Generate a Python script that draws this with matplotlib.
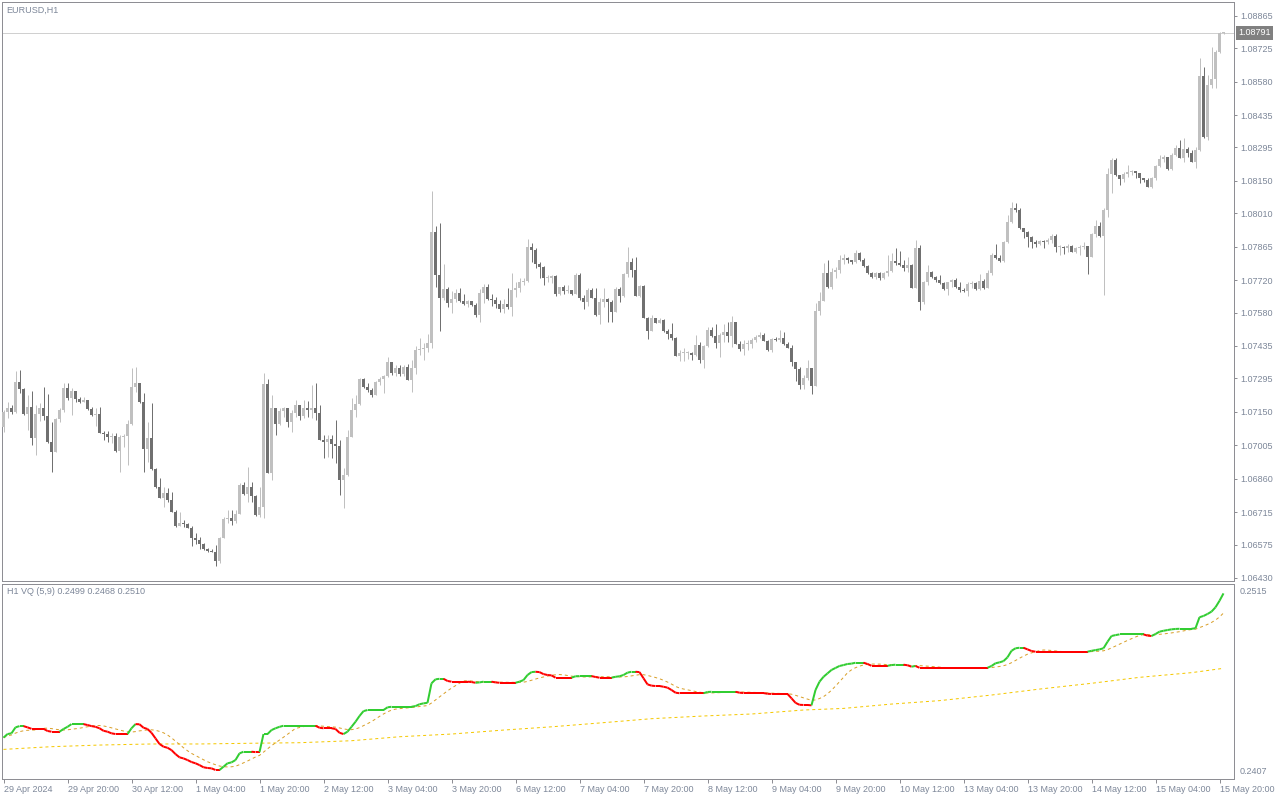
import numpy as np
import pandas as pd
import matplotlib
matplotlib.use("Agg")
import matplotlib.pyplot as plt
from matplotlib.collections import LineCollection

plt.rcParams['font.family'] = ['Liberation Sans', 'DejaVu Sans']

# ---------------- data ----------------
symbol_title = "EURUSD,H1"
indicator_title = "H1 VQ (5,9) 0.2499 0.2468 0.2510"
first_open = 1.07084
current_price = 1.08791

close = [
    1.07149, 1.07166, 1.07149, 1.07279, 1.07248, 1.07140, 1.07170, 1.07036, 1.07140, 1.07166,
    1.07131, 1.07019, 1.06975, 1.07118, 1.07157, 1.07253, 1.07209, 1.07240, 1.07205, 1.07192,
    1.07201, 1.07162, 1.07136, 1.07140, 1.07058, 1.07053, 1.07040, 1.07045, 1.06980, 1.07040,
    1.07045, 1.07097, 1.07257, 1.07274, 1.07192, 1.06988, 1.07036, 1.06902, 1.06824, 1.06776,
    1.06798, 1.06767, 1.06715, 1.06655, 1.06668, 1.06663, 1.06646, 1.06603, 1.06594, 1.06577,
    1.06555, 1.06546, 1.06542, 1.06503, 1.06603, 1.06685, 1.06689, 1.06676, 1.06707, 1.06832,
    1.06793, 1.06824, 1.06785, 1.06702, 1.06737, 1.07270, 1.06884, 1.07166, 1.07097, 1.07153,
    1.07166, 1.07105, 1.07144, 1.07179, 1.07131, 1.07166, 1.07157, 1.07166, 1.07144, 1.07027,
    1.07019, 1.07032, 1.07010, 1.07001, 1.06854, 1.06876, 1.07040, 1.07157, 1.07183, 1.07292,
    1.07257, 1.07244, 1.07222, 1.07279, 1.07292, 1.07305, 1.07365, 1.07318, 1.07339, 1.07313,
    1.07344, 1.07287, 1.07339, 1.07417, 1.07422, 1.07426, 1.07448, 1.07929, 1.07742, 1.07643,
    1.07682, 1.07621, 1.07638, 1.07664, 1.07630, 1.07617, 1.07630, 1.07612, 1.07569, 1.07664,
    1.07690, 1.07638, 1.07634, 1.07617, 1.07595, 1.07617, 1.07604, 1.07677, 1.07686, 1.07712,
    1.07716, 1.07864, 1.07851, 1.07790, 1.07777, 1.07729, 1.07729, 1.07738, 1.07660, 1.07690,
    1.07673, 1.07677, 1.07660, 1.07742, 1.07643, 1.07625, 1.07677, 1.07643, 1.07569, 1.07625,
    1.07638, 1.07625, 1.07582, 1.07682, 1.07651, 1.07747, 1.07799, 1.07764, 1.07651, 1.07695,
    1.07556, 1.07500, 1.07556, 1.07534, 1.07547, 1.07500, 1.07487, 1.07469, 1.07391, 1.07404,
    1.07404, 1.07404, 1.07396, 1.07439, 1.07374, 1.07435, 1.07504, 1.07478, 1.07448, 1.07482,
    1.07495, 1.07478, 1.07539, 1.07443, 1.07422, 1.07443, 1.07443, 1.07461, 1.07474, 1.07482,
    1.07456, 1.07417, 1.07465, 1.07461, 1.07469, 1.07443, 1.07426, 1.07365, 1.07335, 1.07266,
    1.07296, 1.07339, 1.07261, 1.07586, 1.07630, 1.07751, 1.07690, 1.07755, 1.07764, 1.07807,
    1.07816, 1.07807, 1.07799, 1.07838, 1.07807, 1.07781, 1.07751, 1.07734, 1.07751, 1.07729,
    1.07751, 1.07760, 1.07803, 1.07794, 1.07786, 1.07773, 1.07786, 1.07686, 1.07859, 1.07625,
    1.07712, 1.07755, 1.07734, 1.07721, 1.07708, 1.07682, 1.07712, 1.07721, 1.07690, 1.07677,
    1.07673, 1.07703, 1.07708, 1.07682, 1.07716, 1.07686, 1.07751, 1.07829, 1.07816, 1.07803,
    1.07885, 1.07972, 1.08033, 1.08024, 1.07946, 1.07929, 1.07907, 1.07885, 1.07877, 1.07890,
    1.07885, 1.07894, 1.07911, 1.07864, 1.07864, 1.07859, 1.07868, 1.07842, 1.07859, 1.07864,
    1.07868, 1.07820, 1.07920, 1.07955, 1.07911, 1.08024, 1.08180, 1.08241, 1.08176, 1.08158,
    1.08180, 1.08189, 1.08193, 1.08184, 1.08163, 1.08154, 1.08124, 1.08163, 1.08215, 1.08245,
    1.08254, 1.08202, 1.08262, 1.08293, 1.08249, 1.08288, 1.08271, 1.08232, 1.08284, 1.08605,
    1.08340, 1.08566, 1.08592, 1.08709, 1.08791, 1.08791,
]

high = [
    1.07157, 1.07192, 1.07179, 1.07326, 1.07331, 1.07253, 1.07222, 1.07240, 1.07179, 1.07188,
    1.07257, 1.07227, 1.07105, 1.07123, 1.07166, 1.07274, 1.07274, 1.07253, 1.07240, 1.07214,
    1.07214, 1.07196, 1.07170, 1.07166, 1.07170, 1.07066, 1.07066, 1.07058, 1.07058, 1.07049,
    1.07053, 1.07114, 1.07339, 1.07344, 1.07274, 1.07231, 1.07105, 1.07188, 1.06906, 1.06863,
    1.06824, 1.06819, 1.06802, 1.06724, 1.06715, 1.06681, 1.06668, 1.06655, 1.06624, 1.06607,
    1.06581, 1.06559, 1.06555, 1.06572, 1.06607, 1.06694, 1.06724, 1.06724, 1.06724, 1.06841,
    1.06845, 1.06910, 1.06845, 1.06789, 1.06824, 1.07318, 1.07292, 1.07222, 1.07149, 1.07166,
    1.07170, 1.07166, 1.07157, 1.07201, 1.07179, 1.07201, 1.07196, 1.07266, 1.07274, 1.07179,
    1.07049, 1.07049, 1.07049, 1.07114, 1.07027, 1.06906, 1.07071, 1.07209, 1.07222, 1.07296,
    1.07296, 1.07274, 1.07253, 1.07283, 1.07300, 1.07309, 1.07387, 1.07365, 1.07352, 1.07352,
    1.07352, 1.07357, 1.07374, 1.07435, 1.07469, 1.07448, 1.07487, 1.08106, 1.07955, 1.07968,
    1.07790, 1.07690, 1.07673, 1.07682, 1.07686, 1.07660, 1.07634, 1.07630, 1.07621, 1.07682,
    1.07703, 1.07703, 1.07660, 1.07647, 1.07634, 1.07638, 1.07686, 1.07751, 1.07712, 1.07729,
    1.07729, 1.07898, 1.07881, 1.07859, 1.07799, 1.07781, 1.07742, 1.07742, 1.07742, 1.07690,
    1.07699, 1.07699, 1.07677, 1.07751, 1.07751, 1.07656, 1.07686, 1.07686, 1.07686, 1.07643,
    1.07686, 1.07643, 1.07634, 1.07690, 1.07690, 1.07751, 1.07864, 1.07816, 1.07820, 1.07699,
    1.07699, 1.07560, 1.07569, 1.07556, 1.07556, 1.07552, 1.07508, 1.07534, 1.07474, 1.07417,
    1.07426, 1.07413, 1.07409, 1.07482, 1.07452, 1.07439, 1.07517, 1.07517, 1.07530, 1.07491,
    1.07530, 1.07539, 1.07565, 1.07539, 1.07456, 1.07461, 1.07461, 1.07469, 1.07482, 1.07495,
    1.07491, 1.07461, 1.07469, 1.07474, 1.07504, 1.07495, 1.07452, 1.07439, 1.07365, 1.07344,
    1.07309, 1.07374, 1.07339, 1.07621, 1.07669, 1.07794, 1.07807, 1.07773, 1.07777, 1.07829,
    1.07833, 1.07820, 1.07807, 1.07851, 1.07842, 1.07816, 1.07786, 1.07755, 1.07755, 1.07755,
    1.07755, 1.07829, 1.07838, 1.07859, 1.07846, 1.07807, 1.07820, 1.07790, 1.07894, 1.07872,
    1.07716, 1.07786, 1.07760, 1.07738, 1.07742, 1.07712, 1.07712, 1.07725, 1.07729, 1.07712,
    1.07686, 1.07712, 1.07716, 1.07712, 1.07747, 1.07725, 1.07764, 1.07838, 1.07877, 1.07829,
    1.07890, 1.08002, 1.08059, 1.08054, 1.08033, 1.07946, 1.07933, 1.07911, 1.07894, 1.07894,
    1.07894, 1.07903, 1.07920, 1.07920, 1.07872, 1.07868, 1.07877, 1.07872, 1.07864, 1.07872,
    1.07885, 1.07864, 1.07924, 1.07981, 1.07972, 1.08033, 1.08206, 1.08249, 1.08249, 1.08167,
    1.08189, 1.08219, 1.08197, 1.08193, 1.08167, 1.08163, 1.08163, 1.08167, 1.08219, 1.08262,
    1.08262, 1.08254, 1.08271, 1.08306, 1.08327, 1.08336, 1.08297, 1.08284, 1.08297, 1.08683,
    1.08644, 1.08609, 1.08730, 1.08717, 1.08795, 1.08795,
]

low = [
    1.07062, 1.07123, 1.07140, 1.07144, 1.07231, 1.07136, 1.07071, 1.07006, 1.06962, 1.07110,
    1.07114, 1.07014, 1.06889, 1.06975, 1.07105, 1.07149, 1.07201, 1.07136, 1.07192, 1.07188,
    1.07192, 1.07157, 1.07131, 1.07088, 1.07058, 1.07027, 1.07019, 1.07014, 1.06975, 1.06889,
    1.06997, 1.06919, 1.07092, 1.07235, 1.07188, 1.06889, 1.06932, 1.06897, 1.06819, 1.06776,
    1.06737, 1.06759, 1.06715, 1.06650, 1.06668, 1.06650, 1.06646, 1.06568, 1.06577, 1.06555,
    1.06551, 1.06542, 1.06542, 1.06481, 1.06494, 1.06603, 1.06668, 1.06659, 1.06668, 1.06707,
    1.06789, 1.06759, 1.06759, 1.06698, 1.06694, 1.06689, 1.06884, 1.06854, 1.07049, 1.07092,
    1.07127, 1.07084, 1.07062, 1.07127, 1.07114, 1.07123, 1.07127, 1.07123, 1.07114, 1.07027,
    1.06949, 1.06954, 1.06949, 1.06928, 1.06789, 1.06733, 1.06871, 1.07040, 1.07127, 1.07179,
    1.07253, 1.07235, 1.07214, 1.07222, 1.07266, 1.07231, 1.07300, 1.07309, 1.07305, 1.07305,
    1.07305, 1.07287, 1.07235, 1.07313, 1.07396, 1.07374, 1.07409, 1.07426, 1.07690, 1.07500,
    1.07634, 1.07604, 1.07578, 1.07625, 1.07625, 1.07612, 1.07604, 1.07608, 1.07560, 1.07539,
    1.07621, 1.07634, 1.07608, 1.07599, 1.07582, 1.07578, 1.07595, 1.07565, 1.07647, 1.07669,
    1.07699, 1.07712, 1.07799, 1.07773, 1.07729, 1.07699, 1.07712, 1.07708, 1.07651, 1.07656,
    1.07660, 1.07664, 1.07656, 1.07660, 1.07634, 1.07595, 1.07608, 1.07643, 1.07565, 1.07530,
    1.07604, 1.07539, 1.07539, 1.07582, 1.07625, 1.07647, 1.07734, 1.07734, 1.07651, 1.07647,
    1.07556, 1.07465, 1.07500, 1.07534, 1.07534, 1.07495, 1.07465, 1.07461, 1.07391, 1.07370,
    1.07370, 1.07378, 1.07374, 1.07391, 1.07361, 1.07339, 1.07430, 1.07474, 1.07426, 1.07387,
    1.07452, 1.07452, 1.07430, 1.07443, 1.07413, 1.07396, 1.07417, 1.07426, 1.07452, 1.07469,
    1.07456, 1.07413, 1.07409, 1.07456, 1.07452, 1.07439, 1.07426, 1.07348, 1.07283, 1.07248,
    1.07248, 1.07287, 1.07227, 1.07261, 1.07569, 1.07634, 1.07686, 1.07682, 1.07729, 1.07751,
    1.07790, 1.07794, 1.07790, 1.07794, 1.07803, 1.07777, 1.07747, 1.07729, 1.07725, 1.07721,
    1.07725, 1.07738, 1.07755, 1.07786, 1.07781, 1.07760, 1.07755, 1.07686, 1.07686, 1.07591,
    1.07617, 1.07699, 1.07729, 1.07712, 1.07703, 1.07677, 1.07656, 1.07690, 1.07686, 1.07669,
    1.07669, 1.07651, 1.07686, 1.07677, 1.07677, 1.07682, 1.07686, 1.07742, 1.07812, 1.07799,
    1.07799, 1.07881, 1.07968, 1.08015, 1.07942, 1.07903, 1.07864, 1.07859, 1.07864, 1.07872,
    1.07859, 1.07877, 1.07881, 1.07842, 1.07829, 1.07833, 1.07842, 1.07842, 1.07838, 1.07829,
    1.07855, 1.07747, 1.07820, 1.07907, 1.07907, 1.07656, 1.07994, 1.08098, 1.08171, 1.08132,
    1.08145, 1.08167, 1.08176, 1.08163, 1.08141, 1.08145, 1.08124, 1.08119, 1.08154, 1.08210,
    1.08232, 1.08197, 1.08197, 1.08258, 1.08249, 1.08232, 1.08254, 1.08232, 1.08206, 1.08280,
    1.08336, 1.08327, 1.08553, 1.08553, 1.08704, 1.08787,
]

vq = [
    0.24299, 0.24319, 0.24323, 0.24356, 0.24363, 0.24363, 0.24356, 0.24348, 0.24348, 0.24348,
    0.24348, 0.24336, 0.24332, 0.24332, 0.24332, 0.24347, 0.24359, 0.24374, 0.24374, 0.24374,
    0.24374, 0.24369, 0.24363, 0.24359, 0.24351, 0.24337, 0.24332, 0.24323, 0.24319, 0.24319,
    0.24319, 0.24319, 0.24351, 0.24374, 0.24373, 0.24354, 0.24347, 0.24326, 0.24295, 0.24264,
    0.24249, 0.24243, 0.24230, 0.24208, 0.24190, 0.24184, 0.24175, 0.24164, 0.24157, 0.24147,
    0.24135, 0.24131, 0.24129, 0.24120, 0.24120, 0.24138, 0.24157, 0.24162, 0.24175, 0.24212,
    0.24221, 0.24221, 0.24221, 0.24219, 0.24219, 0.24319, 0.24319, 0.24341, 0.24351, 0.24359,
    0.24365, 0.24365, 0.24365, 0.24365, 0.24365, 0.24365, 0.24365, 0.24365, 0.24365, 0.24354,
    0.24351, 0.24351, 0.24351, 0.24347, 0.24326, 0.24319, 0.24332, 0.24359, 0.24387, 0.24419,
    0.24446, 0.24452, 0.24452, 0.24452, 0.24452, 0.24452, 0.24467, 0.24470, 0.24470, 0.24470,
    0.24470, 0.24470, 0.24470, 0.24474, 0.24484, 0.24489, 0.24492, 0.24600, 0.24622, 0.24625,
    0.24625, 0.24613, 0.24609, 0.24609, 0.24609, 0.24609, 0.24609, 0.24607, 0.24603, 0.24605,
    0.24609, 0.24609, 0.24609, 0.24605, 0.24603, 0.24603, 0.24603, 0.24603, 0.24603, 0.24609,
    0.24618, 0.24646, 0.24662, 0.24664, 0.24662, 0.24651, 0.24646, 0.24644, 0.24631, 0.24631,
    0.24631, 0.24631, 0.24631, 0.24639, 0.24640, 0.24640, 0.24640, 0.24640, 0.24635, 0.24631,
    0.24631, 0.24631, 0.24631, 0.24636, 0.24639, 0.24646, 0.24659, 0.24664, 0.24664, 0.24662,
    0.24628, 0.24594, 0.24587, 0.24585, 0.24585, 0.24581, 0.24576, 0.24563, 0.24548, 0.24545,
    0.24545, 0.24545, 0.24545, 0.24545, 0.24545, 0.24545, 0.24552, 0.24553, 0.24553, 0.24553,
    0.24553, 0.24553, 0.24553, 0.24553, 0.24548, 0.24546, 0.24546, 0.24546, 0.24546, 0.24546,
    0.24546, 0.24542, 0.24541, 0.24541, 0.24541, 0.24541, 0.24541, 0.24517, 0.24492, 0.24481,
    0.24480, 0.24480, 0.24478, 0.24563, 0.24609, 0.24636, 0.24655, 0.24674, 0.24685, 0.24696,
    0.24701, 0.24707, 0.24709, 0.24714, 0.24714, 0.24714, 0.24707, 0.24697, 0.24697, 0.24697,
    0.24697, 0.24697, 0.24701, 0.24703, 0.24703, 0.24703, 0.24700, 0.24692, 0.24696, 0.24686,
    0.24686, 0.24686, 0.24686, 0.24686, 0.24686, 0.24686, 0.24686, 0.24686, 0.24686, 0.24686,
    0.24686, 0.24686, 0.24686, 0.24686, 0.24686, 0.24686, 0.24686, 0.24696, 0.24711, 0.24716,
    0.24723, 0.24744, 0.24780, 0.24794, 0.24797, 0.24797, 0.24788, 0.24779, 0.24775, 0.24775,
    0.24775, 0.24775, 0.24775, 0.24775, 0.24775, 0.24775, 0.24775, 0.24775, 0.24775, 0.24775,
    0.24775, 0.24775, 0.24780, 0.24784, 0.24788, 0.24794, 0.24830, 0.24862, 0.24867, 0.24871,
    0.24871, 0.24871, 0.24871, 0.24871, 0.24871, 0.24871, 0.24864, 0.24862, 0.24873, 0.24886,
    0.24891, 0.24895, 0.24899, 0.24901, 0.24902, 0.24902, 0.24902, 0.24902, 0.24905, 0.24966,
    0.24973, 0.24984, 0.24997, 0.25021, 0.25057, 0.25098,
]

slow_bars = [0, 12, 24, 37, 49, 62, 74, 87, 99, 112, 125, 137, 150, 162, 175, 187,
             200, 210, 222, 234, 247, 259, 272, 284, 297, 305]
slow_vals = [0.24234, 0.24249, 0.24258, 0.24264, 0.24264, 0.24268, 0.24271, 0.24282,
             0.24304, 0.24319, 0.24341, 0.24359, 0.24382, 0.24404, 0.24419, 0.24430,
             0.24452, 0.24461, 0.24485, 0.24504, 0.24535, 0.24568, 0.24600, 0.24633,
             0.24659, 0.24683]

price_ticks = [1.08865, 1.08725, 1.08580, 1.08435, 1.08295, 1.08150, 1.08010, 1.07865,
               1.07720, 1.07580, 1.07435, 1.07295, 1.07150, 1.07005, 1.06860, 1.06715,
               1.06575, 1.06430]

time_label_bars = [0, 16, 32, 48, 64, 80, 96, 112, 128, 144, 160, 176, 192, 208, 224,
                   240, 256, 272, 288, 304]
time_labels = ["29 Apr 2024", "29 Apr 20:00", "30 Apr 12:00", "1 May 04:00", "1 May 20:00",
               "2 May 12:00", "3 May 04:00", "3 May 20:00", "6 May 12:00", "7 May 04:00",
               "7 May 20:00", "8 May 12:00", "9 May 04:00", "9 May 20:00", "10 May 12:00",
               "13 May 04:00", "13 May 20:00", "14 May 12:00", "15 May 04:00", "15 May 20:00"]

vq_top_label = "0.2515"
vq_bottom_label = "0.2407"
vq_ylim = (0.2407, 0.2515)
signal_period = 9

# ---------------- style ----------------
BULL = '#c0c0c0'
BEAR = '#707070'
FRAME = '#8e8e94'
TXT = '#7d8799'
GREEN = '#32cd32'
RED = '#ff0000'
ORANGE = '#d9a02a'
YELLOW = '#f5c800'
FS = 6.5
PX = 72.0 / 100.0  # points per pixel

W, H = 1280, 800
fig = plt.figure(figsize=(12.8, 8), dpi=100)
fig.patch.set_facecolor('white')


def px_rect(x0, y0, x1, y1):
    return [x0 / W, 1 - y1 / H, (x1 - x0) / W, (y1 - y0) / H]


ax = fig.add_axes(px_rect(2, 2, 1234, 581))
ax2 = fig.add_axes(px_rect(2, 584, 1234, 779))

x_left = -0.375
x_right = x_left + (1234 - 2) / 4.0

for a in (ax, ax2):
    a.set_facecolor('white')
    for s in a.spines.values():
        s.set_color(FRAME)
        s.set_linewidth(1 * PX)
    a.set_xlim(x_left, x_right)

# ---------------- candles ----------------
c = np.array(close)
o = np.concatenate([[first_open], c[:-1]])
hi = np.maximum(np.array(high), np.maximum(o, c))
lo = np.minimum(np.array(low), np.minimum(o, c))
idx = np.arange(len(c))
up = c >= o
cols = np.where(up, BULL, BEAR)

ax.axhline(current_price, color='#d0d0d0', lw=1 * PX, zorder=1)
ax.vlines(idx, lo, hi, colors=cols, linewidth=1 * PX, zorder=2)
body_bottom = np.minimum(o, c)
body_h = np.maximum(np.abs(c - o), 0.00005)
ax.bar(idx, body_h, bottom=body_bottom, width=0.75, color=cols, linewidth=0, zorder=3)

ax.set_ylim(1.06417, 1.08925)
ax.set_xticks([])
ax.yaxis.tick_right()
ax.set_yticks(price_ticks)
ax.set_yticklabels([f"{v:.5f}" for v in price_ticks])
ax.tick_params(axis='y', length=3 * PX, width=1 * PX, color=FRAME, pad=3 * PX,
               labelsize=FS, labelcolor=TXT)

ax.annotate(f"{current_price:.5f}", xy=(1, current_price), xycoords=('axes fraction', 'data'),
            xytext=(4 * PX, 0), textcoords='offset points', ha='left', va='center',
            fontsize=FS, color='white', annotation_clip=False,
            bbox=dict(boxstyle='square,pad=0.25', fc='#808080', ec='none'))

fig.text(6 / W, 1 - 10 / H, symbol_title, fontsize=FS, color=TXT, ha='left', va='center')

# ---------------- indicator ----------------
v = np.array(vq)
state = []
cur = GREEN
for i in range(len(v)):
    if i > 0:
        if v[i] > v[i - 1]:
            cur = GREEN
        elif v[i] < v[i - 1]:
            cur = RED
    state.append(cur)
segs = [[(i - 1, v[i - 1]), (i, v[i])] for i in range(1, len(v))]
seg_cols = state[1:]

signal = pd.Series(v).rolling(signal_period, min_periods=1).mean().values

ax2.plot(slow_bars, slow_vals, color=YELLOW, lw=1 * PX, linestyle=(0, (3, 3)), zorder=2)
ax2.plot(idx, signal, color=ORANGE, lw=1 * PX, linestyle=(0, (3, 3)), zorder=3)
lc = LineCollection(segs, colors=seg_cols, linewidths=2 * PX, zorder=4, capstyle='butt')
ax2.add_collection(lc)

ax2.set_ylim(*vq_ylim)
ax2.set_yticks([])
ax2.set_xticks(time_label_bars)
ax2.set_xticklabels(time_labels)
for lab in ax2.get_xticklabels():
    lab.set_horizontalalignment('left')
ax2.tick_params(axis='x', length=4 * PX, width=1 * PX, color=FRAME, pad=2 * PX,
                labelsize=FS, labelcolor=TXT)

fig.text(1240 / W, 1 - 591 / H, vq_top_label, fontsize=FS, color=TXT, ha='left', va='center')
fig.text(1240 / W, 1 - 772 / H, vq_bottom_label, fontsize=FS, color=TXT, ha='left', va='center')
fig.text(7 / W, 1 - 592 / H, indicator_title, fontsize=FS, color=TXT, ha='left', va='center')

fig.savefig('out.png', dpi=100, facecolor='white')
